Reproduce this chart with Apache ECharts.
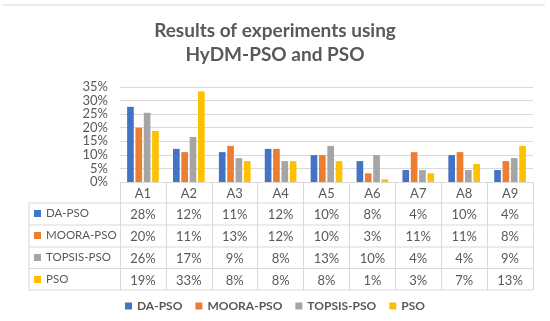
<!DOCTYPE html>
<html><head><meta charset="utf-8">
<script src="https://cdn.jsdelivr.net/npm/echarts@6/dist/echarts.min.js"></script>
<style>html,body{margin:0;padding:0;background:#fff}#c{width:550px;height:321px}</style>
</head><body><div id="c"></div>
<script>
const categories = ['A1','A2','A3','A4','A5','A6','A7','A8','A9'];
const seriesNames = ['DA-PSO','MOORA-PSO','TOPSIS-PSO','PSO'];
const daPso = [27.7,12.2,11.0,12.2,9.9,7.7,4.4,9.9,4.4];
const mooraPso = [20.0,11.0,13.3,12.2,9.9,3.2,11.0,11.0,7.7];
const topsisPso = [25.5,16.6,8.8,7.7,13.3,9.9,4.4,4.4,8.8];
const pso = [18.8,33.4,7.7,7.7,7.7,1.0,3.2,6.6,13.3];
const yTicks = [0,5,10,15,20,25,30,35];
const colors = ['#4472C4','#ED7D31','#A5A5A5','#FFC000'];
const allValues = [daPso, mooraPso, topsisPso, pso];

const FONT = 'Lato';
const TXT = '#595959';
const LINE = '#d9d9d9';
const rowOffsets = [21.5, 43.5, 65.5, 87];

const xAxes = [{
  type: 'category', data: categories, position: 'bottom',
  axisLine: {lineStyle: {color: LINE}},
  axisTick: {show: true, length: 108, lineStyle: {color: LINE}},
  axisLabel: {color: TXT, fontFamily: FONT, fontSize: 13, margin: 5}
}];
allValues.forEach((vals, k) => {
  xAxes.push({
    type: 'category', data: categories, position: 'bottom', offset: rowOffsets[k],
    axisLine: {show: false}, axisTick: {show: false},
    axisLabel: {color: TXT, fontFamily: FONT, fontSize: 13, margin: 5,
      formatter: (v, i) => Math.round(vals[i]) + '%'}
  });
});

const tableYs = [203, 225, 247, 268.5, 290];
const graphic = [{type: 'line', shape: {x1: 3, y1: 5, x2: 545, y2: 5}, style: {stroke: '#e6e6e6', lineWidth: 1.5}}];
tableYs.forEach(y => graphic.push({type: 'line', shape: {x1: 29, y1: y, x2: 533, y2: y}, style: {stroke: LINE, lineWidth: 1}}));
graphic.push({type: 'line', shape: {x1: 29, y1: 203, x2: 29, y2: 290}, style: {stroke: LINE, lineWidth: 1}});

const option = {
  animation: false,
  color: colors,
  title: {
    text: 'Results of experiments using\nHyDM-PSO and PSO',
    left: 'center', top: 14,
    textStyle: {fontFamily: FONT, fontSize: 19, fontWeight: 'bold', color: TXT, lineHeight: 24}
  },
  grid: {left: 120, right: 17, top: 87, bottom: 139},
  legend: [{
    data: seriesNames, bottom: 4, left: 'center', icon: 'rect', itemWidth: 7, itemHeight: 7, itemGap: 13,
    selectedMode: false,
    textStyle: {fontFamily: FONT, fontSize: 12, fontWeight: 'bold', color: TXT}
  }, {
    data: seriesNames, orient: 'vertical', left: 29, top: 206, icon: 'rect', itemWidth: 7, itemHeight: 7,
    itemGap: 7, selectedMode: false, padding: [0, 0, 0, 5],
    textStyle: {fontFamily: FONT, fontSize: 11.5, color: TXT, lineHeight: 15}
  }],
  xAxis: xAxes,
  yAxis: {
    type: 'value', min: yTicks[0], max: yTicks[yTicks.length - 1], interval: 5,
    axisLine: {show: false}, axisTick: {show: false},
    splitLine: {lineStyle: {color: LINE}},
    axisLabel: {color: TXT, fontFamily: FONT, fontSize: 13, margin: 12, formatter: '{value}%'}
  },
  series: allValues.map((vals, k) => ({
    name: seriesNames[k], type: 'bar', data: vals, xAxisIndex: 0,
    barGap: '25%', barCategoryGap: '31%'
  })),
  graphic: graphic
};
const chart = echarts.init(document.getElementById('c'), null, {renderer: 'canvas'});
chart.setOption(option);
</script>
</body></html>
